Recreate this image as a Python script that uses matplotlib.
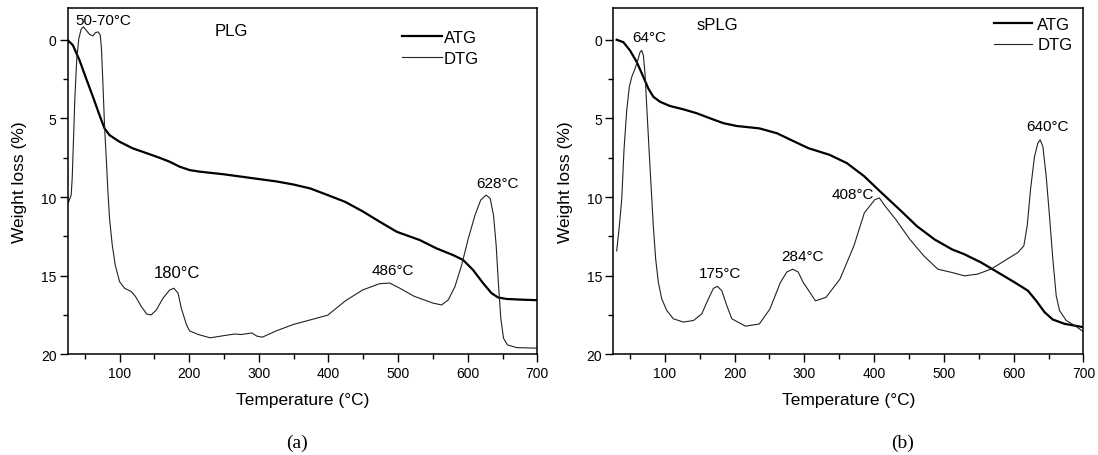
import matplotlib
matplotlib.use("Agg")
import matplotlib.pyplot as plt
from matplotlib.ticker import MultipleLocator

plt.rcParams['font.family'] = ['Liberation Sans', 'DejaVu Sans']

# (a) PLG
plg_atg_t = [25, 32.9, 42.5, 52, 61.6, 71.2, 78.4, 85.6, 100, 119, 138.4, 157.5, 172, 186,
             200.6, 215, 250, 275, 300, 325, 350, 374, 399, 424, 449, 473.5, 498, 523, 530.8,
             554.8, 578.8, 593.3, 607.7, 622.1, 634.1, 643.8, 655.8, 675, 700]
plg_atg_w = [0, 0.34, 1.3, 2.46, 3.6, 4.79, 5.63, 6.06, 6.48, 6.9, 7.2, 7.5, 7.75, 8.06,
             8.28, 8.38, 8.55, 8.7, 8.85, 9.0, 9.2, 9.45, 9.87, 10.3, 10.9, 11.56, 12.2, 12.6,
             12.72, 13.25, 13.68, 13.99, 14.63, 15.47, 16.1, 16.38, 16.47, 16.51, 16.55]
plg_dtg_t = [25.6, 26.7, 30.5, 32, 33.9, 35.8, 38.6, 41.5, 44.9, 48.2, 52, 56.9, 61.6, 65.5,
             69.4, 72.3, 74, 76, 78.4, 80.9, 83.3, 85.6, 89.5, 93.8, 100, 107.2, 116.8, 123,
             131.2, 139.3, 145.6, 152.8, 162.3, 172, 178, 184, 188.7, 196, 200.6, 213, 230,
             250, 265, 275, 290, 297, 305, 325, 349, 374, 399, 424, 449, 473.5, 488, 503, 523,
             550.5, 562.5, 572.1, 581.7, 591.3, 600.9, 610.5, 618.7, 626.4, 632.2, 637, 640.8,
             644.2, 647.5, 651.4, 657.1, 670.2, 700]
plg_dtg_w = [10.08, 10.33, 9.87, 8.8, 6.27, 3.73, 1.19, -0.08, -0.67, -0.83, -0.61, -0.34,
             -0.25, -0.46, -0.5, -0.29, 0.55, 2.67, 5.42, 7.54, 9.65, 11.35, 13.04, 14.31,
             15.37, 15.79, 16.0, 16.32, 16.95, 17.44, 17.48, 17.17, 16.43, 15.9, 15.79, 16.1,
             17.06, 18.1, 18.5, 18.73, 18.94, 18.8, 18.7, 18.73, 18.63, 18.83, 18.9, 18.5,
             18.1, 17.8, 17.5, 16.6, 15.9, 15.5, 15.46, 15.8, 16.3, 16.74, 16.85, 16.53, 15.68,
             14.31, 12.62, 11.14, 10.18, 9.87, 10.08, 11.14, 13.04, 15.58, 17.7, 18.97, 19.39,
             19.56, 19.6]

# (b) sPLG
splg_atg_t = [31, 40.5, 50.1, 59.7, 69.2, 76.4, 83.5, 93.1, 107.5, 126.6, 145.8, 164.8, 184,
              203.1, 235.5, 260.7, 285.7, 305.9, 336, 361, 386, 406, 436.5, 461.5, 486.7,
              511.7, 529.4, 553.3, 577.3, 601.2, 620.3, 632.3, 644.3, 656.2, 673, 699.3]
splg_atg_w = [0, 0.15, 0.68, 1.41, 2.36, 3.1, 3.62, 3.94, 4.21, 4.42, 4.67, 4.99, 5.3, 5.48,
              5.63, 5.94, 6.47, 6.89, 7.31, 7.84, 8.68, 9.53, 10.79, 11.85, 12.69, 13.32,
              13.63, 14.15, 14.78, 15.41, 15.94, 16.58, 17.31, 17.78, 18.05, 18.26]
splg_dtg_t = [31, 34.8, 38.2, 41.5, 45.4, 49.1, 52.6, 57.3, 61.2, 64.5, 66.9, 69.2, 71.6,
              74.1, 77.4, 80.3, 83.5, 86.9, 90.7, 95.6, 102.8, 112.2, 126.6, 141, 152.9, 162.4,
              169.6, 175.3, 181.6, 188.8, 196, 215.6, 235.5, 250.6, 265.7, 275, 283.3, 291,
              298.4, 315.9, 331, 351, 371, 386, 401, 407.5, 416, 431, 451.3, 471.4, 491.4,
              511.7, 529.4, 548.6, 567.7, 586.8, 606, 614.6, 619.4, 624.2, 629.9, 634.7, 638,
              641.9, 646.7, 651.4, 656.2, 661, 665.8, 675.4, 687.3, 699.3]
splg_dtg_w = [13.42, 11.84, 10.15, 6.99, 4.47, 2.99, 2.36, 1.83, 1.31, 0.78, 0.68, 0.99,
              2.15, 4.26, 6.99, 9.31, 11.84, 13.94, 15.41, 16.47, 17.2, 17.73, 17.94, 17.84,
              17.42, 16.47, 15.8, 15.67, 15.94, 16.89, 17.73, 18.2, 18.06, 17.11, 15.42, 14.75,
              14.58, 14.75, 15.42, 16.59, 16.37, 15.21, 13.1, 11.0, 10.16, 10.05, 10.58, 11.42,
              12.69, 13.74, 14.58, 14.79, 15.0, 14.89, 14.57, 14.05, 13.52, 13.1, 11.84, 9.52,
              7.42, 6.57, 6.36, 6.78, 8.68, 11.21, 13.94, 16.26, 17.21, 17.84, 18.15, 18.53]


def style_axes(ax, x0):
    ax.set_xlim(x0, 700)
    ax.set_ylim(20, -2)
    ax.xaxis.set_major_locator(MultipleLocator(100))
    ax.xaxis.set_minor_locator(MultipleLocator(50))
    ax.yaxis.set_major_locator(MultipleLocator(5))
    ax.yaxis.set_minor_locator(MultipleLocator(2.5))
    ax.tick_params(which='major', direction='out', length=5.5, width=1, pad=2.5, labelsize=10)
    ax.tick_params(which='minor', direction='out', length=3.4, width=1)
    for s in ax.spines.values():
        s.set_linewidth(1.1)
    ax.set_xlabel('Temperature (°C)', fontsize=12.5, labelpad=9)
    ax.set_ylabel('Weight loss (%)', fontsize=12.5, labelpad=10)


fig = plt.figure(figsize=(10.98, 4.56), dpi=100)
ax1 = fig.add_axes([0.0617, 0.2204, 0.4277, 0.7592])
ax2 = fig.add_axes([0.5586, 0.2204, 0.4281, 0.7592])

ax1.plot(plg_atg_t, plg_atg_w, color='black', lw=1.6, label='ATG', solid_joinstyle='round')
ax1.plot(plg_dtg_t, plg_dtg_w, color='#222222', lw=0.8, label='DTG', solid_joinstyle='round')
style_axes(ax1, 25.6)
ax1.legend(loc='upper right', bbox_to_anchor=(0.875, 0.937), frameon=False, fontsize=12,
           handlelength=2.4, handletextpad=0.1, labelspacing=0.35, borderpad=0,
           borderaxespad=0)
ax1.text(76.6, -1.27, '50-70°C', fontsize=11, ha='center', va='center')
ax1.text(260, -0.57, 'PLG', fontsize=12, ha='center', va='center')
ax1.text(182, 14.77, '180°C', fontsize=12, ha='center', va='center')
ax1.text(492, 14.6, '486°C', fontsize=11, ha='center', va='center')
ax1.text(643, 9.07, '628°C', fontsize=11, ha='center', va='center')

ax2.plot(splg_atg_t, splg_atg_w, color='black', lw=1.6, label='ATG', solid_joinstyle='round')
ax2.plot(splg_dtg_t, splg_dtg_w, color='#222222', lw=0.8, label='DTG', solid_joinstyle='round')
style_axes(ax2, 26.2)
ax2.legend(loc='upper right', bbox_to_anchor=(0.977, 0.976), frameon=False, fontsize=12,
           handlelength=2.3, handletextpad=0.3, labelspacing=0.35, borderpad=0,
           borderaxespad=0)
ax2.text(175.3, -0.97, 'sPLG', fontsize=12, ha='center', va='center')
ax2.text(77.4, -0.16, '64°C', fontsize=11, ha='center', va='center')
ax2.text(178.8, 14.84, '175°C', fontsize=11, ha='center', va='center')
ax2.text(296.8, 13.74, '284°C', fontsize=11, ha='center', va='center')
ax2.text(370, 9.78, '408°C', fontsize=11, ha='center', va='center')
ax2.text(648.7, 5.46, '640°C', fontsize=11, ha='center', va='center')

fig.text(0.2705, 0.028, '(a)', fontsize=14, family='Liberation Serif', ha='center', va='center')
fig.text(0.8224, 0.028, '(b)', fontsize=14, family='Liberation Serif', ha='center', va='center')

fig.savefig('out.png', dpi=100)
